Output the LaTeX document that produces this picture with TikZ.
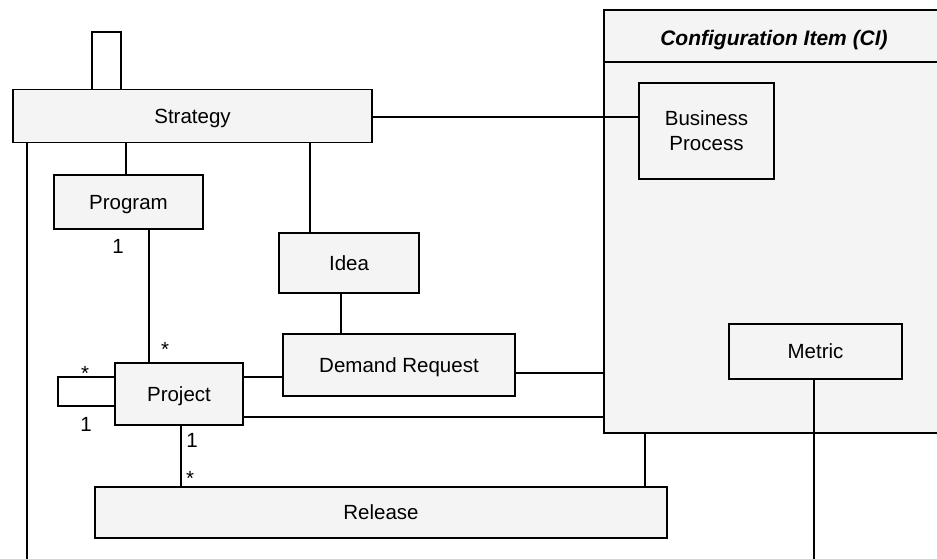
\documentclass[tikz,border=0pt]{standalone}
\usepackage{fontspec}
\setmainfont{Liberation Sans}
\definecolor{boxfill}{RGB}{244,244,244}
\begin{document}
\begin{tikzpicture}[x=1pt,y=-1pt,
  every node/.style={font=\fontsize{20.5}{25}\selectfont},
  boxbase/.style={draw, line width=1.8pt, fill=boxfill, inner sep=0pt},
  box/.style={boxbase, text height=14.7pt, text depth=0pt},
  link/.style={line width=1.6pt},
  mult/.style={anchor=base, inner sep=0pt}]
\clip (0,0) rectangle (937,559);
\fill[white] (0,0) rectangle (937,559);

% Configuration Item container with its title compartment
\node[box, minimum width=340pt, minimum height=423pt] (ci) at (774,221.5) {};
\draw[link] (ci.west |- 0,62) -- (ci.east |- 0,62);
\node[font=\fontsize{21}{25}\selectfont\bfseries\itshape, text height=15pt, text depth=0pt] (cititle) at (774,38) {Configuration Item (CI)};

% Classes
\node[box, minimum width=359pt, minimum height=53pt] (strategy) at (192.5,116) {Strategy};
\node[box, minimum width=149pt, minimum height=54pt] (program) at (128.5,202) {Program};
\node[box, minimum width=140pt, minimum height=60pt] (idea) at (349,263) {Idea};
\node[box, minimum width=232pt, minimum height=62pt] (demand) at (399,365) {Demand Request};
\node[box, minimum width=128pt, minimum height=62pt] (project) at (179,394) {Project};
\node[box, minimum width=572pt, minimum height=51pt] (release) at (381,512.5) {Release};
\node[boxbase, minimum width=135pt, minimum height=96pt, align=center] (bp) at (706.5,131) {Business\\Process};
\node[box, minimum width=173pt, minimum height=55pt] (metric) at (815.5,351.5) {Metric};

% Associations
\coordinate (leftend) at (27,559);
\coordinate (metricend) at (814,559);
\draw[link] (strategy.south -| leftend) -- (leftend);
\draw[link] (strategy.north -| 92,0) |- (121,32) -- (strategy.north -| 121,0);
\draw[link] (strategy.south -| 126,0) -- (program.north -| 126,0);
\draw[link] (strategy.south -| 310,0) -- (idea.north -| 310,0);
\draw[link] (strategy.east |- 0,117) -- (bp.west |- 0,117);
\draw[link] (program.south -| 149,0) -- (project.north -| 149,0);
\draw[link] (idea.south -| 341,0) -- (demand.north -| 341,0);
\draw[link] (project.east |- 0,377) -- (demand.west |- 0,377);
\draw[link] (demand.east |- 0,373) -- (ci.west |- 0,373);
\draw[link] (project.east |- 0,417) -- (ci.west |- 0,417);
\draw[link] (project.south -| 181,0) -- (release.north -| 181,0);
\draw[link] (ci.south -| 645,0) -- (release.north -| 645,0);
\draw[link] (metric.south -| metricend) -- (metricend);
\draw[link] (project.west |- 0,377) -| (58,406) -- (project.west |- 0,406);

% Multiplicities
\node[mult] (m1) at (118,253) {1};
\node[mult] (m2) at (165,356) {*};
\node[mult] (m3) at (85,380) {*};
\node[mult] (m4) at (86,431) {1};
\node[mult] (m5) at (192,447) {1};
\node[mult] (m6) at (190,485) {*};
\end{tikzpicture}
\end{document}
